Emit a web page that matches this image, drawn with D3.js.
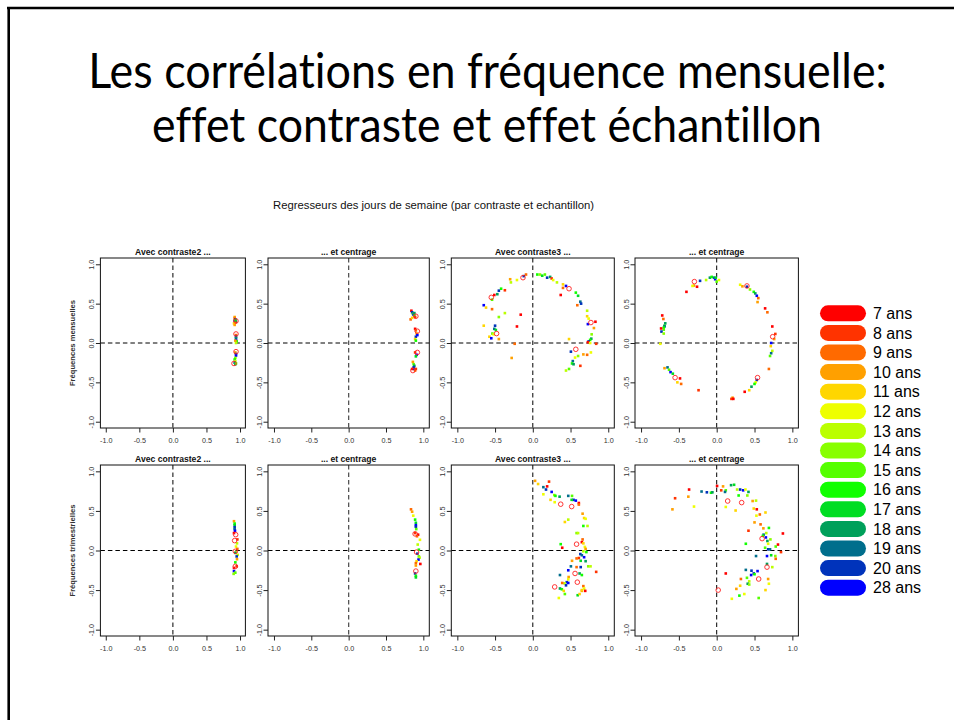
<!DOCTYPE html>
<html>
<head>
<meta charset="utf-8">
<script src="https://cdn.jsdelivr.net/npm/d3@7"></script>
<style>
  body { margin: 0; background: #fff; }
  svg { display: block; }
  text { font-variant-ligatures: none; font-feature-settings: "liga" 0, "dlig" 0; }
</style>
</head>
<body>
<svg id="chart" width="954" height="720"></svg>
<script>
// ---- legend / age groups ----
const ageLabels = ["7 ans","8 ans","9 ans","10 ans","11 ans","12 ans","13 ans","14 ans",
                   "15 ans","16 ans","17 ans","18 ans","19 ans","20 ans","28 ans"];
const ageColors = ["#ff0000","#ff3300","#ff6a00","#ffa000","#ffd600","#eeff00","#bbff00","#88ff00",
                   "#55ff00","#11ff00","#00dd22","#00a05a","#006e8c","#0033bb","#0000ff"];

// ---- axis ticks and titles ----
const tickValues = [-1, -0.5, 0, 0.5, 1];
const panelTitles = ["Avec contraste2 ...", "... et centrage", "Avec contraste3 ...", "... et centrage"];
const rowLabels = ["Fréquences mensuelles", "Fréquences trimestrielles"];

// ---- correlations: [x, y, age index] ; circles: [x, y] ----
const mensContraste2 = [[0.92,0.33,3],[0.92,0.31,2],[0.93,0.30,13],[0.92,0.28,14],[0.94,0.27,12],[0.93,0.26,1],[0.91,0.25,4],[0.92,0.23,3],[0.93,0.29,10],
  [0.94,0.10,2],[0.94,0.08,13],[0.94,0.06,11],[0.94,0.04,14],[0.95,0.02,9],[0.94,0.00,6],[0.93,0.03,3],
  [0.93,-0.12,3],[0.94,-0.14,13],[0.94,-0.16,14],[0.93,-0.19,7],[0.92,-0.21,9],[0.93,-0.23,6],[0.92,-0.25,12],[0.93,-0.27,11],[0.94,-0.26,8]];
const mensContraste2Circles = [[0.94,0.28],[0.94,0.115],[0.94,-0.11],[0.91,-0.26]];

const mensCentrage2 = [[0.84,0.41,0],[0.85,0.39,13],[0.86,0.37,8],[0.87,0.36,14],[0.88,0.35,9],[0.89,0.33,1],[0.83,0.30,2],[0.85,0.32,4],[0.88,0.38,11],
  [0.89,0.18,0],[0.90,0.16,2],[0.91,0.12,3],[0.90,0.08,13],[0.89,0.05,4],[0.90,0.03,9],[0.92,0.10,14],
  [0.89,-0.12,1],[0.91,-0.15,14],[0.90,-0.17,10],
  [0.86,-0.24,3],[0.87,-0.27,8],[0.88,-0.29,11],[0.87,-0.31,13],[0.85,-0.33,0],[0.88,-0.33,14],[0.89,-0.35,2],[0.90,-0.33,1]];
const mensCentrage2Circles = [[0.90,0.34],[0.92,0.15],[0.92,-0.12],[0.86,-0.35]];

const mensContraste3 = [[-0.09,0.87,2],[-0.12,0.85,13],[-0.21,0.80,5],[-0.30,0.81,3],[-0.29,0.77,6],[-0.37,0.67,1],[-0.42,0.69,9],[-0.45,0.665,13],[-0.47,0.62,11],[-0.51,0.61,0],
  [-0.54,0.55,8],[-0.65,0.48,14],[-0.62,0.45,4],[-0.54,0.43,2],[-0.37,0.38,6],[-0.16,0.36,0],[-0.45,0.33,7],[-0.65,0.22,4],[-0.50,0.22,13],[-0.51,0.18,12],
  [-0.49,0.165,10],[-0.535,0.12,8],[-0.52,0.11,5],[-0.575,0.08,4],[-0.55,0.06,14],[-0.45,0.05,3],[-0.21,0.21,0],[-0.24,-0.01,2],[-0.28,-0.19,3],
  [0.06,0.87,9],[0.095,0.87,7],[0.125,0.855,10],[0.16,0.87,8],[0.19,0.83,13],[0.23,0.84,11],[0.25,0.82,1],[0.27,0.80,5],[0.32,0.77,6],[0.40,0.745,4],
  [0.44,0.725,14],[0.40,0.70,2],[0.37,0.61,0],[0.57,0.64,9],[0.60,0.60,10],[0.63,0.525,12],[0.64,0.50,13],[0.59,0.48,2],[0.72,0.41,6],[0.72,0.34,4],
  [0.74,0.31,5],[0.83,0.27,0],[0.73,0.24,14],[0.81,0.19,3],[0.78,0.11,7],[0.775,0.055,11],[0.76,0.04,9],[0.74,0.02,13],[0.73,0.01,0],[0.76,0.00,5],
  [0.84,-0.01,1],[0.48,0.05,4],[0.505,-0.11,13],[0.60,-0.165,7],[0.56,-0.185,5],[0.53,-0.23,12],[0.52,-0.26,9],[0.54,-0.27,11],[0.63,-0.29,1],[0.48,-0.33,8],
  [0.44,-0.35,6],[0.67,-0.145,3],[0.72,-0.15,2],[0.77,-0.12,5]];
const mensContraste3Circles = [[-0.13,0.83],[-0.55,0.58],[-0.48,0.12],[0.48,0.69],[0.77,0.26],[0.57,-0.08]];

const mensCentrage3 = [[-0.30,0.73,3],[-0.26,0.715,0],[-0.32,0.725,5],[-0.22,0.79,13],[-0.14,0.80,6],[-0.09,0.83,11],[-0.066,0.84,9],[-0.035,0.83,12],[-0.02,0.81,14],
  [0.00,0.78,8],[0.03,0.80,5],[-0.013,0.83,10],[-0.40,0.65,0],[0.31,0.74,5],[0.34,0.72,3],[0.40,0.715,13],[0.44,0.68,7],[0.49,0.65,9],[0.51,0.63,11],
  [0.53,0.60,14],[0.55,0.57,2],[0.54,0.52,3],[0.64,0.44,0],[0.67,0.39,2],[0.735,0.21,0],[0.775,0.115,1],[0.76,0.05,3],[0.72,0.00,14],[0.715,-0.04,4],
  [0.735,-0.10,6],[0.72,-0.13,12],[0.705,-0.165,8],[0.69,-0.33,2],[0.53,-0.47,13],[0.515,-0.50,5],[0.50,-0.52,9],[0.46,-0.555,11],[0.43,-0.60,4],
  [0.37,-0.62,0],[0.21,-0.695,3],[0.195,-0.71,1],[0.22,-0.71,0],[-0.72,0.35,0],[-0.705,0.305,2],[-0.68,0.25,11],[-0.69,0.22,10],[-0.69,0.21,12],
  [-0.70,0.195,9],[-0.70,0.17,8],[-0.735,0.185,0],[-0.73,0.145,13],[-0.70,0.12,7],[-0.745,-0.01,5],[-0.69,-0.32,3],[-0.65,-0.31,12],[-0.63,-0.34,8],
  [-0.61,-0.37,14],[-0.58,-0.39,10],[-0.485,-0.45,0],[-0.52,-0.50,4],[-0.47,-0.52,2],[-0.24,-0.60,1]];
const mensCentrage3Circles = [[-0.295,0.78],[0.40,0.725],[0.74,0.08],[0.54,-0.44],[-0.55,-0.44]];

const trimContraste2 = [[0.91,0.37,3],[0.92,0.34,9],[0.92,0.32,10],[0.92,0.295,13],[0.92,0.27,12],[0.925,0.25,14],[0.91,0.22,0],[0.96,0.14,1],[0.955,0.09,6],
  [0.94,0.05,5],[0.96,0.02,2],[0.94,-0.02,4],[0.93,-0.03,11],[0.965,-0.055,6],[0.95,-0.075,13],[0.955,-0.11,3],[0.93,-0.15,9],[0.95,-0.20,1],
  [0.91,-0.22,0],[0.91,-0.26,14],[0.93,-0.28,8],[0.905,-0.295,7]];
const trimContraste2Circles = [[0.935,0.20],[0.92,0.125],[0.93,-0.01],[0.93,-0.20]];

const trimCentrage2 = [[0.835,0.52,2],[0.85,0.49,3],[0.865,0.44,5],[0.89,0.39,9],[0.90,0.35,10],[0.90,0.32,14],[0.90,0.30,13],[0.905,0.27,8],[0.89,0.22,1],
  [0.93,0.20,0],[0.915,0.18,2],[0.955,0.135,5],[0.925,0.075,6],[0.94,0.01,9],[0.92,-0.04,13],[0.94,-0.075,8],[0.95,-0.09,6],[0.935,-0.115,14],
  [0.91,-0.135,4],[0.90,-0.16,2],[0.96,-0.17,0],[0.90,-0.19,3],[0.89,-0.29,13],[0.90,-0.32,9],[0.90,-0.34,10]];
const trimCentrage2Circles = [[0.89,0.21],[0.91,-0.02],[0.90,-0.26]];

const trimContraste3 = [[0.03,0.88,3],[0.07,0.84,4],[0.215,0.87,1],[0.19,0.81,0],[0.14,0.80,12],[0.175,0.77,13],[0.25,0.74,14],[0.14,0.71,5],[0.285,0.70,7],
  [0.30,0.69,9],[0.355,0.68,11],[0.47,0.69,12],[0.52,0.69,8],[0.54,0.64,13],[0.57,0.63,14],[0.515,0.64,10],[0.235,0.64,4],[0.29,0.61,5],[0.61,0.60,0],
  [0.61,0.58,2],[0.66,0.465,3],[0.68,0.41,4],[0.70,0.40,5],[0.47,0.39,6],[0.425,0.36,4],[0.67,0.31,9],[0.725,0.31,6],[0.58,0.22,7],[0.60,0.22,6],
  [0.66,0.14,2],[0.65,0.105,0],[0.67,0.09,4],[0.69,0.045,5],[0.70,0.02,3],[0.67,-0.01,6],[0.71,-0.02,9],[0.37,0.08,9],[0.39,0.035,0],[0.63,-0.045,13],
  [0.65,-0.06,12],[0.61,-0.095,1],[0.58,-0.10,2],[0.68,-0.085,14],[0.635,-0.13,10],[0.70,-0.135,11],[0.52,-0.13,3],[0.735,-0.20,7],[0.765,-0.20,6],
  [0.505,-0.20,12],[0.58,-0.21,2],[0.635,-0.21,13],[0.47,-0.25,14],[0.84,-0.27,1],[0.62,-0.29,11],[0.65,-0.31,9],[0.36,-0.31,12],[0.475,-0.335,3],
  [0.47,-0.365,5],[0.45,-0.40,13],[0.47,-0.41,14],[0.42,-0.415,6],[0.44,-0.44,13],[0.39,-0.41,2],[0.36,-0.48,11],[0.385,-0.49,9],[0.41,-0.51,4],
  [0.425,-0.55,8],[0.345,-0.60,5],[0.595,-0.565,10],[0.62,-0.55,4],[0.65,-0.51,3],[0.67,-0.45,2],[0.68,-0.48,5],[0.695,-0.51,0],[0.65,-0.50,4]];
const trimContraste3Circles = [[0.37,0.585],[0.515,0.555],[0.58,0.08],[0.56,-0.29],[0.59,-0.40],[0.29,-0.46]];

const trimCentrage3 = [[-0.585,0.52,3],[-0.55,0.66,1],[-0.375,0.68,3],[-0.30,0.555,5],[-0.365,0.77,0],[-0.20,0.745,12],[-0.13,0.735,13],[-0.075,0.73,9],
  [-0.057,0.735,11],[0.005,0.815,0],[0.06,0.76,1],[0.084,0.81,3],[0.12,0.76,8],[0.11,0.74,12],[0.19,0.825,11],[0.23,0.83,10],[0.27,0.77,6],[0.31,0.77,13],
  [0.35,0.76,14],[0.38,0.77,5],[0.42,0.74,11],[0.405,0.695,7],[0.29,0.695,9],[0.12,0.55,5],[0.25,0.505,4],[0.475,0.625,3],[0.52,0.63,6],[0.49,0.53,4],
  [0.53,0.52,0],[0.57,0.455,2],[0.525,0.44,5],[0.645,0.48,4],[0.50,0.355,3],[0.58,0.33,2],[0.617,0.28,3],[0.655,0.22,6],[0.69,0.285,9],[0.42,0.25,1],
  [0.62,0.20,12],[0.61,0.185,9],[0.65,0.165,14],[0.67,0.12,11],[0.875,0.215,0],[0.71,0.14,7],[0.68,0.085,5],[0.81,0.075,0],[0.78,0.05,8],[0.64,0.035,8],
  [0.68,0.015,13],[0.705,0.015,12],[0.85,-0.02,1],[0.385,0.085,9],[0.52,-0.07,12],[0.665,-0.07,14],[0.72,-0.06,10],[0.775,-0.07,7],[0.78,-0.105,2],
  [0.665,-0.17,11],[0.735,-0.21,6],[0.12,-0.29,0],[0.385,-0.245,12],[0.46,-0.255,13],[0.54,-0.26,14],[0.49,-0.29,13],[0.455,-0.31,14],[0.50,-0.30,9],
  [0.40,-0.345,8],[0.32,-0.36,2],[0.68,-0.36,3],[0.69,-0.42,5],[0.43,-0.39,6],[0.41,-0.42,11],[0.43,-0.43,7],[0.31,-0.445,4],[0.26,-0.485,3],
  [0.645,-0.50,4],[0.365,-0.55,5],[0.30,-0.57,9],[0.20,-0.61,5],[0.555,-0.60,8]];
const trimCentrage3Circles = [[0.145,0.625],[0.33,0.605],[0.60,0.15],[0.665,-0.21],[0.555,-0.36],[0.02,-0.50]];

const panelPoints = [[mensContraste2, mensCentrage2, mensContraste3, mensCentrage3],
                     [trimContraste2, trimCentrage2, trimContraste3, trimCentrage3]];
const panelCircles = [[mensContraste2Circles, mensCentrage2Circles, mensContraste3Circles, mensCentrage3Circles],
                      [trimContraste2Circles, trimCentrage2Circles, trimContraste3Circles, trimCentrage3Circles]];

// ---- page layout ----
const svg = d3.select("#chart");
const sans = "'Liberation Sans', Arial, sans-serif";

// slide frame (top and left edges)
svg.append("line").attr("x1", 7).attr("x2", 954).attr("y1", 8).attr("y2", 8)
  .attr("stroke", "#000").attr("stroke-width", 2.6);
svg.append("line").attr("x1", 8.7).attr("x2", 8.7).attr("y1", 7).attr("y2", 720)
  .attr("stroke", "#000").attr("stroke-width", 2.6);

// slide title: each line is fitted horizontally to its target width
const titleLines = [
  {text: "Les corrélations en fréquence mensuelle:", x: 487.5, y: 88, len: 799},
  {text: "effet contraste et effet échantillon", x: 487, y: 142, len: 670}
];
titleLines.forEach(line => {
  const g = svg.append("g");
  const t = g.append("text")
    .attr("x", 0).attr("y", 0)
    .attr("text-anchor", "middle")
    .attr("font-family", "Lato, 'Open Sans', sans-serif")
    .attr("font-size", 49)
    .attr("fill", "#000")
    .text(line.text);
  const natural = t.node().getComputedTextLength();
  g.attr("transform", `translate(${line.x},${line.y}) scale(${line.len / natural},1)`);
});

// figure subtitle
svg.append("text")
  .attr("x", 433.5).attr("y", 208.5)
  .attr("text-anchor", "middle")
  .attr("font-family", sans).attr("font-size", 10.5)
  .attr("fill", "#111")
  .attr("textLength", 321).attr("lengthAdjust", "spacingAndGlyphs")
  .text("Regresseurs des jours de semaine (par contraste et echantillon)");

// panel frames (pixel extents of each plotting box)
const colExtents = [[100.4, 245.4], [268, 429.3], [451.3, 614.3], [635, 798.4]];
const rowExtents = [[258, 428], [465, 636]];
const fmt = d => d.toFixed(1);

rowExtents.forEach((rowExt, r) => {
  colExtents.forEach((colExt, c) => {
    const x = d3.scaleLinear().domain([-1.08, 1.08]).range(colExt);
    const y = d3.scaleLinear().domain([-1.08, 1.08]).range([rowExt[1], rowExt[0]]);
    const g = svg.append("g");

    // zero reference lines
    g.append("line")
      .attr("x1", x(0)).attr("x2", x(0)).attr("y1", rowExt[0]).attr("y2", rowExt[1])
      .attr("stroke", c === 1 ? "#555" : "#000").attr("stroke-width", c === 1 ? 1.3 : 1)
      .attr("stroke-dasharray", "4.5,3");
    g.append("line")
      .attr("x1", colExt[0]).attr("x2", colExt[1]).attr("y1", y(0)).attr("y2", y(0))
      .attr("stroke", "#000").attr("stroke-width", 1)
      .attr("stroke-dasharray", "4.5,3");

    // correlation points
    const s = 2.6;
    g.selectAll("rect.pt").data(panelPoints[r][c]).join("rect")
      .attr("class", "pt")
      .attr("x", d => x(d[0]) - s / 2).attr("y", d => y(d[1]) - s / 2)
      .attr("width", s).attr("height", s)
      .attr("fill", d => ageColors[d[2]]);

    // highlighted positions
    g.selectAll("circle.hl").data(panelCircles[r][c]).join("circle")
      .attr("class", "hl")
      .attr("cx", d => x(d[0])).attr("cy", d => y(d[1]))
      .attr("r", 2.3)
      .attr("fill", "none").attr("stroke", "#ff2020").attr("stroke-width", 0.9);

    // box
    g.append("rect")
      .attr("x", colExt[0]).attr("y", rowExt[0])
      .attr("width", colExt[1] - colExt[0]).attr("height", rowExt[1] - rowExt[0])
      .attr("fill", "none").attr("stroke", "#111").attr("stroke-width", 1);

    // x axis
    const ax = g.append("g")
      .attr("transform", `translate(0,${rowExt[1]})`)
      .call(d3.axisBottom(x).tickValues(tickValues).tickSize(4.5).tickFormat(fmt));
    ax.select(".domain").remove();
    ax.selectAll("line").attr("stroke", "#222");
    ax.selectAll("text")
      .attr("y", 10).attr("dy", "0.71em")
      .attr("font-family", sans).attr("font-size", 7.2).attr("fill", "#333");

    // y axis with vertical labels
    const ay = g.append("g")
      .attr("transform", `translate(${colExt[0]},0)`)
      .call(d3.axisLeft(y).tickValues(tickValues).tickSize(4.5).tickFormat(fmt));
    ay.select(".domain").remove();
    ay.selectAll("line").attr("stroke", "#222");
    ay.selectAll("text")
      .attr("x", 0).attr("dy", 0)
      .attr("text-anchor", "middle")
      .attr("transform", "translate(-6.5,0) rotate(-90)")
      .attr("font-family", sans).attr("font-size", 7.2).attr("fill", "#333");

    // panel title
    g.append("text")
      .attr("x", (colExt[0] + colExt[1]) / 2).attr("y", rowExt[0] - 3.5)
      .attr("text-anchor", "middle")
      .attr("font-family", sans).attr("font-size", 8.6).attr("font-weight", "bold")
      .attr("fill", "#111")
      .text(panelTitles[c]);
  });

  // row label
  svg.append("text")
    .attr("transform", `translate(74.5,${(rowExt[0] + rowExt[1]) / 2}) rotate(-90)`)
    .attr("text-anchor", "middle")
    .attr("font-family", sans).attr("font-size", 7.6).attr("font-weight", "bold")
    .attr("fill", "#333")
    .text(rowLabels[r]);
});

// legend
const legendY = d3.scaleLinear().domain([0, ageLabels.length - 1]).range([313.3, 587.7]);
const lg = svg.append("g");
lg.selectAll("rect").data(ageLabels).join("rect")
  .attr("x", 820).attr("y", (d, i) => legendY(i) - 8)
  .attr("width", 46).attr("height", 16)
  .attr("rx", 8).attr("ry", 8)
  .attr("fill", (d, i) => ageColors[i]);
lg.selectAll("text").data(ageLabels).join("text")
  .attr("x", 873).attr("y", (d, i) => legendY(i))
  .attr("dy", "0.36em")
  .attr("font-family", sans).attr("font-size", 16)
  .attr("fill", "#000")
  .text(d => d);
</script>
</body>
</html>
